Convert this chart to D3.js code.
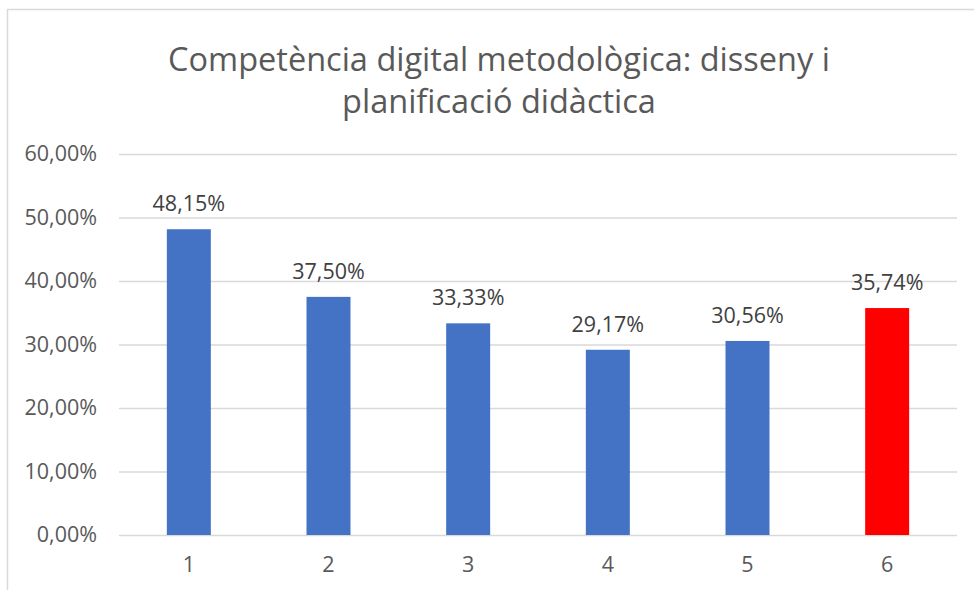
<!DOCTYPE html>
<html>
<head>
<meta charset="utf-8">
<script src="https://cdn.jsdelivr.net/npm/d3@7"></script>
<style>
  html, body { margin: 0; padding: 0; background: #fff; }
  svg { display: block; font-family: "Open Sans", "Noto Sans", sans-serif; }
</style>
</head>
<body>
<svg id="chart" width="974" height="590"></svg>
<script>
// data
const categories = ["1", "2", "3", "4", "5", "6"];
const values = [48.15, 37.50, 33.33, 29.17, 30.56, 35.74];
const barColors = ["#4472c4", "#4472c4", "#4472c4", "#4472c4", "#4472c4", "#ff0000"];
const yTicks = [0, 10, 20, 30, 40, 50, 60];
const titleLines = ["Competència digital metodològica: disseny i", "planificació didàctica"];

const margin = {top: 154, right: 17, bottom: 55, left: 119};
const width = 974 - margin.left - margin.right;
const height = 590 - margin.top - margin.bottom;
const fontFamily = "'Open Sans', 'Noto Sans', sans-serif";
const labelSize = "21.5px";

const fmt = v => v.toFixed(2).replace(".", ",") + "%";

const svg = d3.select("#chart");

// chart frame
svg.append("rect")
    .attr("x", 7.5)
    .attr("y", 9.5)
    .attr("width", 1000)
    .attr("height", 1000)
    .attr("fill", "none")
    .attr("stroke", "#d9d9d9")
    .attr("stroke-width", 1.5);

svg.append("g")
    .attr("class", "title")
  .selectAll("text")
  .data(titleLines)
  .join("text")
    .attr("x", 499)
    .attr("y", (d, i) => 71 + i * 42)
    .attr("text-anchor", "middle")
    .attr("font-size", "32.5px")
    .attr("fill", "#595959")
    .text(d => d);

const g = svg.append("g")
    .attr("transform", `translate(${margin.left},${margin.top})`);

const x = d3.scaleBand()
    .domain(categories)
    .range([0, width])
    .padding(0);

const y = d3.scaleLinear()
    .domain([0, 60])
    .range([height, 0]);

const barWidth = x.bandwidth() * 0.315;

// gridlines + y labels
g.append("g")
    .attr("class", "axis y")
    .call(d3.axisLeft(y)
        .tickValues(yTicks)
        .tickSize(-width)
        .tickPadding(22)
        .tickFormat(fmt))
    .call(a => a.select(".domain").remove())
    .call(a => a.selectAll("line")
        .attr("stroke", "#d9d9d9")
        .attr("stroke-width", 1.5))
    .call(a => a.selectAll("text")
        .attr("font-size", labelSize)
        .attr("font-family", fontFamily)
        .attr("fill", "#595959"));

// x labels
g.append("g")
    .attr("class", "axis x")
    .attr("transform", `translate(0,${height})`)
    .call(d3.axisBottom(x).tickSize(0).tickPadding(22))
    .call(a => a.select(".domain").remove())
    .call(a => a.selectAll("text")
        .attr("font-size", labelSize)
        .attr("font-family", fontFamily)
        .attr("fill", "#595959"));

const bars = g.selectAll(".bar")
  .data(values.map((v, i) => ({cat: categories[i], value: v, color: barColors[i]})))
  .join("g")
    .attr("class", "bar");

bars.append("rect")
    .attr("x", d => x(d.cat) + (x.bandwidth() - barWidth) / 2)
    .attr("y", d => y(d.value))
    .attr("width", barWidth)
    .attr("height", d => height - y(d.value))
    .attr("fill", d => d.color);

bars.append("text")
    .attr("x", d => x(d.cat) + x.bandwidth() / 2)
    .attr("y", d => y(d.value) - 18)
    .attr("text-anchor", "middle")
    .attr("font-size", labelSize)
    .attr("fill", "#404040")
    .text(d => fmt(d.value));
</script>
</body>
</html>
